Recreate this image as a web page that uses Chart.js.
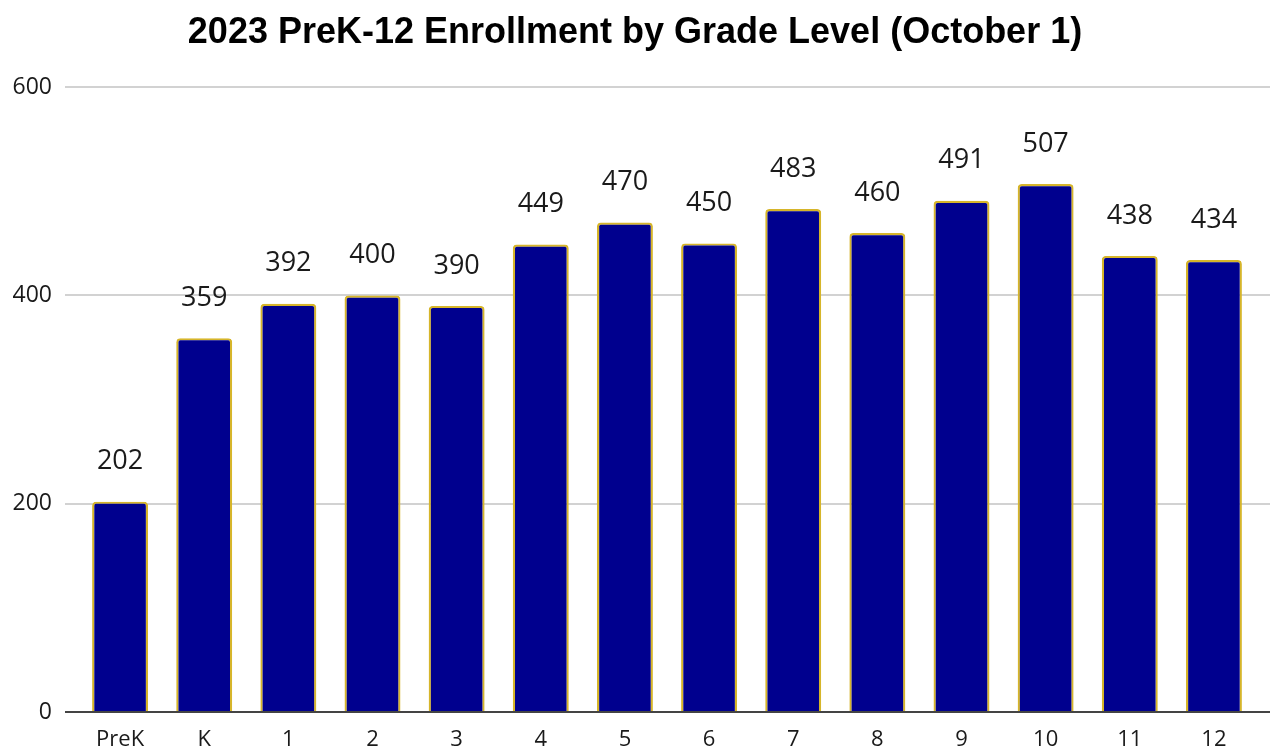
<!DOCTYPE html>
<html>
<head>
<meta charset="utf-8">
<script src="https://cdn.jsdelivr.net/npm/chart.js@4"></script>
<style>
  html, body { margin: 0; padding: 0; background: #fff; }
  #wrap { width: 1274px; height: 752px; position: relative; }
</style>
</head>
<body>
<div id="wrap"><canvas id="c"></canvas></div>
<script>
const categories = ['PreK', 'K', '1', '2', '3', '4', '5', '6', '7', '8', '9', '10', '11', '12'];
const enrollment = [202, 359, 392, 400, 390, 449, 470, 450, 483, 460, 491, 507, 438, 434];
const yTicks = [0, 200, 400, 600];
const titleText = '2023 PreK-12 Enrollment by Grade Level (October 1)';

const gridColor = ctx => (ctx.tick && ctx.tick.value === 0) ? '#444444' : '#d2d2d2';

const valueLabels = {
  id: 'valueLabels',
  afterDatasetsDraw(chart) {
    const ctx = chart.ctx;
    const meta = chart.getDatasetMeta(0);
    ctx.save();
    ctx.font = '27px "Open Sans"';
    ctx.fillStyle = '#1a1a1a';
    ctx.textAlign = 'center';
    ctx.textBaseline = 'middle';
    meta.data.forEach((bar, i) => {
      ctx.fillText(String(chart.data.datasets[0].data[i]), bar.x, bar.y - 40);
    });
    ctx.restore();
  }
};

new Chart(document.getElementById('c'), {
  type: 'bar',
  data: {
    labels: categories,
    datasets: [{
      data: enrollment,
      backgroundColor: '#00008e',
      borderColor: '#d6b52a',
      borderWidth: 2.2,
      borderRadius: 4,
      borderSkipped: 'start',
      categoryPercentage: 1,
      barPercentage: 0.665
    }]
  },
  options: {
    responsive: true,
    maintainAspectRatio: false,
    animation: false,
    layout: { padding: { top: 0, right: 4, bottom: 0, left: 0 } },
    plugins: {
      legend: { display: false },
      tooltip: { enabled: false },
      title: {
        display: true,
        text: titleText,
        color: '#000',
        font: { family: '"Liberation Sans", Arial, sans-serif', size: 36, weight: 'bold' },
        padding: { top: 11, bottom: 33 }
      }
    },
    scales: {
      x: {
        afterFit: scale => { scale.height = 40; },
        grid: { display: false },
        border: { display: false },
        ticks: {
          color: '#1a1a1a',
          font: { family: '"Open Sans"', size: 22 },
          padding: 7,
          maxRotation: 0,
          autoSkip: false
        }
      },
      y: {
        min: 0,
        max: 600,
        afterBuildTicks: scale => { scale.ticks = yTicks.map(v => ({ value: v })); },
        afterFit: scale => { scale.width = 78; },
        border: { display: false },
        grid: { color: gridColor, lineWidth: 2, tickLength: 13, drawTicks: true },
        ticks: {
          color: '#1a1a1a',
          font: { family: '"Open Sans"', size: 23 },
          padding: 13
        }
      },
      y2: {
        position: 'right',
        min: 0,
        max: 600,
        afterBuildTicks: scale => { scale.ticks = yTicks.map(v => ({ value: v })); },
        border: { display: false },
        grid: { color: gridColor, lineWidth: 2, tickLength: 14, drawTicks: true, drawOnChartArea: false },
        ticks: { display: false }
      }
    }
  },
  plugins: [valueLabels]
});
</script>
</body>
</html>
